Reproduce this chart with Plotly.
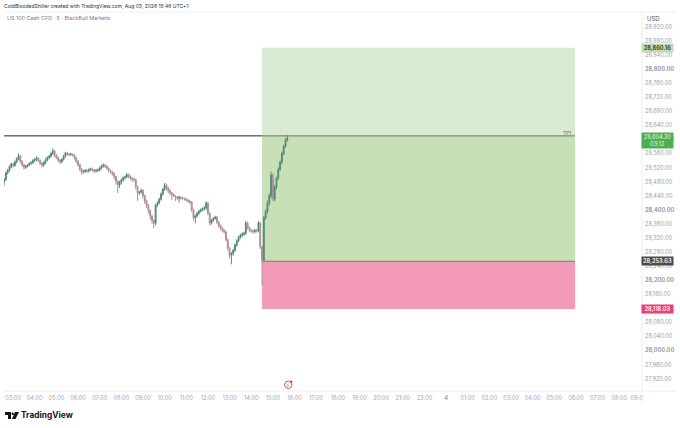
import plotly.graph_objects as go

# 5 minute bars, hours counted from 00:00 on the chart's first day
hours = [(155 + 5 * i) / 60 for i in range(158)]

opens = [
    28478, 28486, 28505, 28512, 28522, 28530, 28526, 28536, 28545, 28553,
    28538, 28528, 28521, 28524, 28527, 28532, 28534, 28540, 28543, 28547,
    28540, 28532, 28527, 28534, 28542, 28548, 28552, 28560, 28567, 28555,
    28548, 28541, 28536, 28543, 28552, 28561, 28559, 28557, 28558, 28556,
    28548, 28538, 28528, 28516, 28507, 28509, 28512, 28510, 28514, 28516,
    28513, 28510, 28512, 28513, 28519, 28524, 28527, 28524, 28518, 28512,
    28508, 28504, 28494, 28482, 28470, 28478, 28485, 28490, 28493, 28500,
    28496, 28490, 28488, 28485, 28466, 28448, 28450, 28455, 28440, 28425,
    28413, 28398, 28382, 28370, 28362, 28413, 28420, 28430, 28445, 28458,
    28470, 28462, 28455, 28448, 28444, 28440, 28436, 28433, 28436, 28434,
    28432, 28431, 28428, 28425, 28422, 28400, 28377, 28382, 28390, 28396,
    28400, 28403, 28405, 28419, 28390, 28362, 28370, 28375, 28379, 28365,
    28355, 28348, 28342, 28337, 28315, 28291, 28271, 28276, 28285, 28300,
    28312, 28322, 28328, 28330, 28333, 28362, 28350, 28342, 28340, 28338,
    28342, 28340, 28362, 28294, 28257, 28377, 28395, 28420, 28440, 28499,
    28430, 28465, 28490, 28515, 28535, 28560, 28580, 28598,
]
highs = [
    28490, 28508, 28516, 28526, 28534, 28533, 28540, 28549, 28560, 28555,
    28541, 28531, 28527, 28530, 28535, 28538, 28544, 28547, 28552, 28549,
    28543, 28535, 28538, 28546, 28552, 28556, 28564, 28574, 28570, 28558,
    28551, 28544, 28547, 28556, 28565, 28564, 28561, 28562, 28560, 28558,
    28551, 28541, 28531, 28519, 28513, 28516, 28515, 28518, 28520, 28519,
    28516, 28516, 28517, 28523, 28528, 28532, 28530, 28526, 28520, 28514,
    28510, 28506, 28496, 28484, 28482, 28489, 28495, 28497, 28504, 28503,
    28498, 28493, 28491, 28488, 28469, 28453, 28460, 28458, 28443, 28428,
    28416, 28401, 28385, 28373, 28417, 28424, 28434, 28449, 28462, 28476,
    28474, 28465, 28458, 28450, 28446, 28442, 28438, 28440, 28438, 28436,
    28435, 28434, 28430, 28427, 28424, 28403, 28386, 28394, 28400, 28404,
    28407, 28410, 28424, 28422, 28393, 28374, 28379, 28383, 28382, 28368,
    28358, 28351, 28345, 28340, 28318, 28294, 28280, 28289, 28304, 28316,
    28326, 28332, 28336, 28338, 28368, 28366, 28353, 28346, 28344, 28346,
    28345, 28368, 28366, 28298, 28382, 28400, 28426, 28446, 28508, 28503,
    28470, 28494, 28520, 28540, 28565, 28585, 28603, 28612,
]
lows = [
    28468, 28482, 28500, 28508, 28518, 28520, 28522, 28532, 28541, 28532,
    28522, 28514, 28516, 28520, 28524, 28528, 28530, 28536, 28538, 28536,
    28527, 28520, 28522, 28530, 28538, 28544, 28548, 28556, 28550, 28544,
    28536, 28530, 28532, 28540, 28548, 28554, 28553, 28553, 28552, 28543,
    28532, 28522, 28510, 28500, 28503, 28505, 28505, 28506, 28510, 28508,
    28505, 28506, 28508, 28509, 28515, 28520, 28519, 28513, 28506, 28502,
    28497, 28486, 28472, 28448, 28462, 28472, 28480, 28486, 28490, 28490,
    28484, 28480, 28480, 28458, 28425, 28442, 28446, 28432, 28416, 28405,
    28390, 28372, 28360, 28348, 28356, 28408, 28416, 28426, 28440, 28454,
    28455, 28448, 28441, 28428, 28436, 28425, 28428, 28420, 28429, 28427,
    28426, 28423, 28420, 28416, 28394, 28370, 28362, 28378, 28386, 28392,
    28396, 28398, 28400, 28384, 28355, 28358, 28366, 28372, 28360, 28350,
    28342, 28336, 28332, 28310, 28284, 28262, 28245, 28270, 28280, 28295,
    28308, 28318, 28322, 28326, 28329, 28344, 28336, 28335, 28332, 28333,
    28335, 28336, 28288, 28186, 28252, 28372, 28390, 28412, 28432, 28425,
    28424, 28458, 28484, 28510, 28530, 28555, 28576, 28594,
]
closes = [
    28486, 28505, 28512, 28522, 28530, 28526, 28536, 28545, 28553, 28538,
    28528, 28521, 28524, 28527, 28532, 28534, 28540, 28543, 28547, 28540,
    28532, 28527, 28534, 28542, 28548, 28552, 28560, 28567, 28555, 28548,
    28541, 28536, 28543, 28552, 28561, 28559, 28557, 28558, 28556, 28548,
    28538, 28528, 28516, 28507, 28509, 28512, 28510, 28514, 28516, 28513,
    28510, 28512, 28513, 28519, 28524, 28527, 28524, 28518, 28512, 28508,
    28504, 28494, 28482, 28470, 28478, 28485, 28490, 28493, 28500, 28496,
    28490, 28488, 28485, 28466, 28448, 28450, 28455, 28440, 28425, 28413,
    28398, 28382, 28370, 28362, 28413, 28420, 28430, 28445, 28458, 28470,
    28462, 28455, 28448, 28444, 28440, 28436, 28433, 28436, 28434, 28432,
    28431, 28428, 28425, 28422, 28400, 28377, 28382, 28390, 28396, 28400,
    28403, 28405, 28419, 28390, 28362, 28370, 28375, 28379, 28365, 28355,
    28348, 28342, 28337, 28315, 28291, 28271, 28276, 28285, 28300, 28312,
    28322, 28328, 28330, 28333, 28362, 28350, 28342, 28340, 28338, 28342,
    28340, 28362, 28294, 28257, 28377, 28395, 28420, 28440, 28499, 28430,
    28465, 28490, 28515, 28535, 28560, 28580, 28598, 28604,
]

price_ticks = [27920 + 40 * i for i in range(26)]
price_labels = [
    f"<b>{p:,}.00</b>" if p % 200 == 0 else f"{p:,}.00" for p in price_ticks
]

time_ticks = list(range(3, 32)) + [31.8]
time_labels = [
    "03:00", "04:00", "05:00", "06:00", "07:00", "08:00", "09:00", "10:00",
    "11:00", "12:00", "13:00", "14:00", "15:00", "16:00", "17:00", "18:00",
    "19:00", "20:00", "21:00", "23:00", "<b>4</b>", "01:00", "02:00", "03:00",
    "04:00", "05:00", "06:00", "07:00", "08:00", "09:0",
]

# long position tool
box_start = 14.5
box_end = 28.96
target = 28860.16
tp1 = 28610
entry = 28253.63
stop = 28118.03
last_price = 28604.30
countdown = "03:12"


# pixel position to paper coordinates for the furniture around the pane
def px(x):
    return (x - 4) / 638


def py(y):
    return (391 - y) / 379


fig = go.Figure()

fig.add_trace(go.Candlestick(
    x=hours, open=opens, high=highs, low=lows, close=closes,
    increasing=dict(line=dict(color="#568a76", width=1), fillcolor="#568a76"),
    decreasing=dict(line=dict(color="#ab8f99", width=1), fillcolor="#ab8f99"),
    whiskerwidth=0,
    hoverinfo="skip",
    showlegend=False,
))

# zones
fig.add_shape(type="rect", x0=box_start, x1=box_end, y0=tp1, y1=target,
              fillcolor="#d9ead3", line_width=0, layer="below")
fig.add_shape(type="rect", x0=box_start, x1=box_end, y0=entry, y1=tp1,
              fillcolor="#c8e0b8", line_width=0, layer="below")
fig.add_shape(type="rect", x0=box_start, x1=box_end, y0=stop, y1=entry,
              fillcolor="#f49ab9", line_width=0, layer="below")
fig.add_shape(type="line", x0=box_start, x1=box_end, y0=entry, y1=entry,
              line=dict(color="#6f7f6a", width=1), layer="below")
fig.add_shape(type="line", x0=2.58, x1=box_start, y0=tp1, y1=tp1,
              line=dict(color="#22252b", width=1))
fig.add_shape(type="line", x0=box_start, x1=box_end, y0=tp1, y1=tp1,
              line=dict(color="#66755f", width=1))

# pane borders
fig.add_shape(type="line", xref="paper", yref="paper", x0=1, x1=1, y0=py(403), y1=py(12),
              line=dict(color="#eceef2", width=1))
fig.add_shape(type="line", xref="paper", yref="paper", x0=0, x1=px(676), y0=0, y1=0,
              line=dict(color="#eceef2", width=1))
fig.add_shape(type="line", xref="paper", yref="paper", x0=0, x1=px(676), y0=1, y1=1,
              line=dict(color="#f0f1f4", width=1))

# event marker on the time axis
fig.add_shape(type="circle", xref="paper", yref="paper",
              x0=px(284.5), x1=px(292), y0=py(388.5), y1=py(381),
              line=dict(color="#a35bb5", width=1), fillcolor="white")
fig.add_shape(type="circle", xref="paper", yref="paper",
              x0=px(290), x1=px(292.5), y0=py(383), y1=py(380.5),
              line_width=0, fillcolor="#e8435f")

# TradingView logo
fig.add_shape(type="path", xref="paper", yref="paper", line_width=0, fillcolor="#131722",
              path=(f"M {px(5)} {py(412)} L {px(11)} {py(412)} L {px(11)} {py(419)} "
                    f"L {px(8)} {py(419)} L {px(8)} {py(415)} L {px(5)} {py(415)} Z"))
fig.add_shape(type="circle", xref="paper", yref="paper", line_width=0, fillcolor="#131722",
              x0=px(11.5), x1=px(14), y0=py(415), y1=py(412.5))
fig.add_shape(type="path", xref="paper", yref="paper", line_width=0, fillcolor="#131722",
              path=(f"M {px(15)} {py(412)} L {px(19)} {py(412)} L {px(15.5)} {py(419)} "
                    f"L {px(12)} {py(419)} Z"))


def note(text, x, y, size, color, anchor="left", **kw):
    fig.add_annotation(text=text, xref="paper", yref="paper", x=px(x), y=py(y),
                       xanchor=anchor, yanchor="middle", showarrow=False,
                       font=dict(size=size, color=color), **kw)


def tag(text, price, bg, color, height=8, shift=0):
    fig.add_annotation(text=text, xref="paper", yref="y", x=px(658), y=price,
                       xanchor="center", yanchor="middle", showarrow=False,
                       font=dict(size=5.6, color=color), bgcolor=bg,
                       width=31, height=height, borderpad=0, yshift=shift)


note("ColdBloodedShiller created with TradingView.com, Aug 03, 2026 15:46 UTC+1",
     2, 6, 5, "#2a2e39")
note("US 100 Cash CFD · 5 · BlackBull Markets", 5, 18, 5.4, "#787b86")
note("USD", 645, 18, 6, "#50535e")
note("TP1", 561, 132.5, 4.8, "#66755f")
note("⚡", 288.2, 385, 4.5, "#a35bb5", anchor="center")
note("<b>TradingView</b>", 18.5, 415, 8.4, "#131722")

tag(f"<b>{target:,.2f}</b>", target, "#c3dcb4", "#3c4a38")
tag(f"{last_price:,.2f}<br>{countdown}", last_price, "#4caf50", "#e8f5e9", height=15, shift=-3)
tag(f"<b>{entry:,.2f}</b>", entry, "#4a4a4a", "#e6e6e6")
tag(f"<b>{stop:,.2f}</b>", stop, "#ee3d75", "#ffe3ec")

fig.update_layout(
    width=680, height=428,
    margin=dict(l=4, r=38, t=12, b=37),
    paper_bgcolor="white",
    plot_bgcolor="white",
    font=dict(family="Inter, Roboto, sans-serif", color="#9598a1"),
    showlegend=False,
)
fig.update_xaxes(
    range=[2.58, 32.05], rangeslider_visible=False, showgrid=False, zeroline=False,
    showline=False, tickmode="array", tickvals=time_ticks, ticktext=time_labels,
    tickfont=dict(size=5.6, color="#a3a6af"), ticks="", ticklabelstandoff=2,
)
fig.update_yaxes(
    range=[27885, 28962], side="right", showgrid=False, zeroline=False, showline=False,
    tickmode="array", tickvals=price_ticks, ticktext=price_labels,
    tickfont=dict(size=5.6, color="#9a9da6"), ticks="", ticklabelstandoff=2,
)

# the page's default body margin would push the figure 8px off
fig.write_html("out.html", post_script="document.body.style.margin='0';",
               config={"displayModeBar": False})
